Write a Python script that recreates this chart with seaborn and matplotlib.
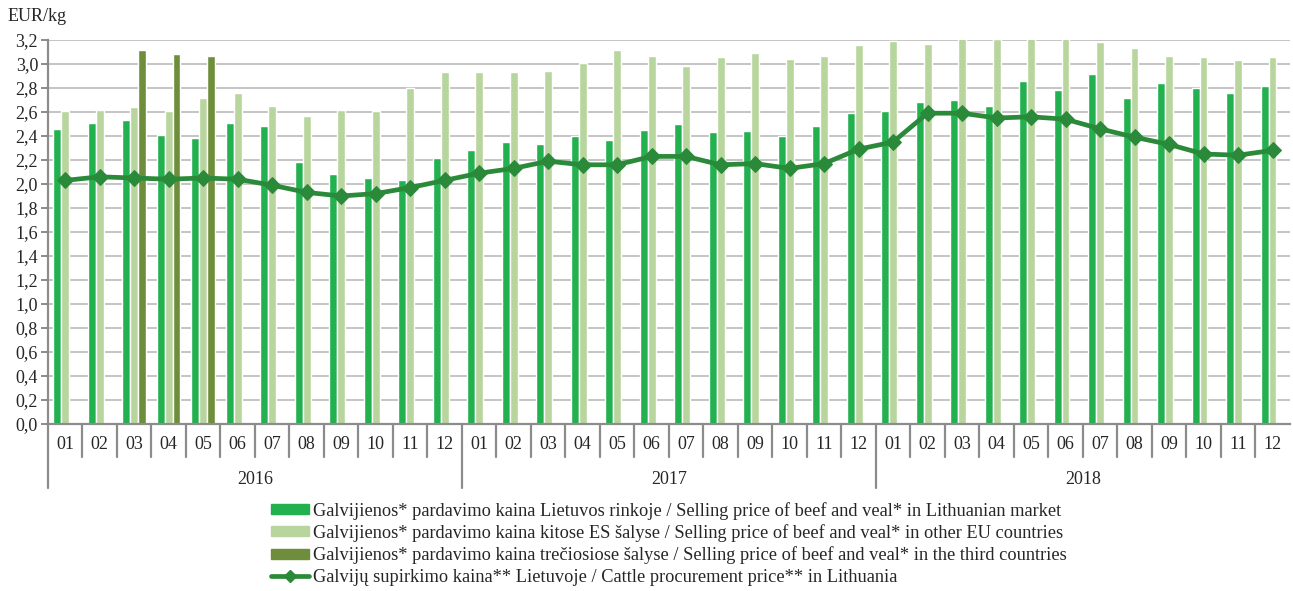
import numpy as np
import pandas as pd
import matplotlib.pyplot as plt
import matplotlib.transforms as mtransforms
from matplotlib.patches import Patch
from matplotlib.lines import Line2D
from matplotlib.ticker import FuncFormatter
import seaborn as sns

# data
years = ['2016', '2017', '2018']
months = ['01', '02', '03', '04', '05', '06', '07', '08', '09', '10', '11', '12']

lt_market = [2.46, 2.51, 2.53, 2.41, 2.38, 2.51, 2.48, 2.18, 2.08, 2.05, 2.03, 2.22,
             2.28, 2.35, 2.33, 2.40, 2.37, 2.45, 2.50, 2.43, 2.44, 2.40, 2.48, 2.59,
             2.61, 2.68, 2.70, 2.65, 2.86, 2.78, 2.92, 2.72, 2.84, 2.80, 2.76, 2.82]
eu_other = [2.61, 2.62, 2.64, 2.61, 2.72, 2.76, 2.65, 2.57, 2.62, 2.61, 2.80, 2.93,
            2.93, 2.93, 2.94, 3.01, 3.12, 3.07, 2.98, 3.06, 3.09, 3.04, 3.07, 3.16,
            3.19, 3.17, 3.22, 3.21, 3.23, 3.22, 3.18, 3.13, 3.07, 3.06, 3.03, 3.06]
third_countries = [np.nan, np.nan, 3.12, 3.08, 3.07] + [np.nan] * 31
procurement = [2.03, 2.06, 2.05, 2.04, 2.05, 2.04, 1.99, 1.93, 1.90, 1.92, 1.97, 2.03,
               2.09, 2.13, 2.19, 2.16, 2.16, 2.23, 2.23, 2.16, 2.17, 2.13, 2.17, 2.29,
               2.35, 2.59, 2.59, 2.55, 2.56, 2.54, 2.46, 2.39, 2.33, 2.25, 2.24, 2.28]

lab_lt = 'Galvijienos* pardavimo kaina Lietuvos rinkoje / Selling price of beef and veal* in Lithuanian market'
lab_eu = 'Galvijienos* pardavimo kaina kitose ES šalyse / Selling price of beef and veal* in other EU countries'
lab_3rd = 'Galvijienos* pardavimo kaina trečiosiose šalyse / Selling price of beef and veal* in the third countries'
lab_proc = 'Galvijų supirkimo kaina** Lietuvoje / Cattle procurement price** in Lithuania'

c_lt = '#23b14f'
c_eu = '#b9d59e'
c_3rd = '#6e8e3b'
c_line = '#2b8a39'

periods = [y + '-' + m for y in years for m in months]
df = pd.DataFrame({
    'period': periods * 3,
    'value': lt_market + eu_other + third_countries,
    'series': [lab_lt] * 36 + [lab_eu] * 36 + [lab_3rd] * 36,
})

sns.set_style('white')
plt.rcParams['font.family'] = ['Liberation Serif', 'DejaVu Serif']
fs = 13

fig = plt.figure(figsize=(12.93, 5.91), dpi=100)
ax = fig.add_axes([0.037, 0.2826, 0.9605, 0.6497])

sns.barplot(data=df, x='period', y='value', hue='series', order=periods,
            hue_order=[lab_lt, lab_eu, lab_3rd], palette=[c_lt, c_eu, c_3rd],
            width=0.69, gap=0.0, saturation=1, legend=False, ax=ax)
sns.lineplot(x=np.arange(36), y=procurement, color=c_line, lw=3.4, marker='D',
             markersize=8.5, markeredgecolor=c_line, ax=ax, zorder=5)

ax.set_ylim(0, 3.2)
ax.set_xlim(-0.5, 35.5)
ax.set_yticks(np.arange(0, 3.21, 0.2))
ax.yaxis.set_major_formatter(FuncFormatter(lambda v, p: f'{v:.1f}'.replace('.', ',')))
ax.yaxis.grid(True, color='#bababa', lw=1.2)
ax.set_axisbelow(True)
ax.set_xlabel('')
ax.set_ylabel('')
for s in ['top', 'right']:
    ax.spines[s].set_visible(False)
for s in ['left', 'bottom']:
    ax.spines[s].set_color('#8c8c8c')
    ax.spines[s].set_linewidth(1.6)
ax.tick_params(axis='y', left=True, length=5, width=1.4, color='#8c8c8c',
               labelsize=fs, pad=2)
ax.set_xticks(range(36))
ax.set_xticklabels(months * 3)
ax.tick_params(axis='x', bottom=False, labelsize=fs, pad=5)

trans = mtransforms.blended_transform_factory(ax.transData, ax.transAxes)
for i in range(36):
    x = i - 0.5
    low = -0.167 if i % 12 == 0 else -0.085
    ax.plot([x, x], [0, low], color='#8c8c8c', lw=1.6, transform=trans, clip_on=False)
for k, y in enumerate(years):
    ax.text(12 * k + 5.5, -0.145, y, transform=trans, ha='center', va='center', fontsize=fs)

fig.text(0.006, 0.972, 'EUR/kg', fontsize=fs, va='center', ha='left')

handles = [
    Patch(color=c_lt, label=lab_lt),
    Patch(color=c_eu, label=lab_eu),
    Patch(color=c_3rd, label=lab_3rd),
    Line2D([0], [0], color=c_line, lw=3.4, marker='D', markersize=6.5, label=lab_proc),
]
fig.legend(handles=handles, loc='upper left', bbox_to_anchor=(0.2095, 0.151),
           frameon=False, fontsize=13.2, handlelength=2.1, handleheight=0.45,
           handletextpad=0.2, labelspacing=0.24, borderpad=0, borderaxespad=0)

fig.savefig('out.png', dpi=100)
